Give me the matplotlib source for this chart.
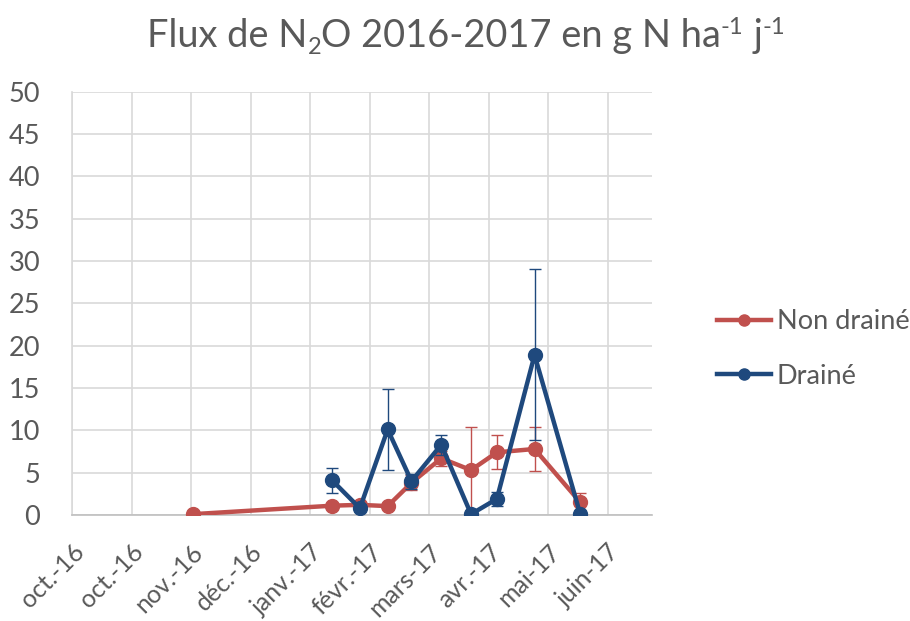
import matplotlib
matplotlib.use("Agg")
import matplotlib.pyplot as plt
import matplotlib.transforms as mtransforms
from matplotlib.lines import Line2D
from datetime import date, timedelta

# data
non_draine_dates = ["2016-12-01", "2017-02-09", "2017-02-23", "2017-03-09", "2017-03-21",
                    "2017-04-05", "2017-04-20", "2017-05-03", "2017-05-22", "2017-06-14"]
non_draine_vals = [0.1, 1.1, 1.2, 1.05, 3.8, 6.7, 5.3, 7.4, 7.8, 1.5]
non_draine_err = [0.1, 0.2, 0.3, 0.2, 0.9, 0.9, 5.1, 2.0, 2.55, 1.05]

draine_dates = ["2017-02-09", "2017-02-23", "2017-03-09", "2017-03-21", "2017-04-05",
                "2017-04-20", "2017-05-03", "2017-05-22", "2017-06-14"]
draine_vals = [4.1, 0.8, 10.1, 4.0, 8.3, 0.1, 1.9, 18.9, 0.1]
draine_err = [1.5, 0.2, 4.8, 0.9, 1.2, 0.0, 0.8, 10.1, 0.0]

tick_labels = ["oct.-16", "oct.-16", "nov.-16", "déc.-16", "janv.-17",
               "févr.-17", "mars-17", "avr.-17", "mai-17", "juin-17"]
axis_start = date(2016, 10, 1)
tick_step_days = 30
axis_span_days = 292

# title pieces: (text, kind)
title_parts = [("Flux de N", "n"), ("2", "sub"), ("O 2016-2017 en g N ha", "n"),
               ("-1", "sup"), (" j", "n"), ("-1", "sup")]

red = "#C0504D"
blue = "#1F497D"
grey_text = "#595959"
grid_col = "#D9D9D9"
font = "Lato"

plt.rcParams["font.family"] = [font, "DejaVu Sans"]

W, H = 910, 621
fig = plt.figure(figsize=(W / 100, H / 100), dpi=100)
ax = fig.add_axes([72 / W, 1 - 515 / H, (651.7 - 72) / W, (515 - 91.7) / H])

def to_dates(lst):
    return [date.fromisoformat(d) for d in lst]

ax.errorbar(to_dates(non_draine_dates), non_draine_vals, yerr=non_draine_err,
            color=red, lw=3.2, marker="o", ms=10, ecolor=red, elinewidth=1,
            capsize=4.3, capthick=1, zorder=3)
ax.errorbar(to_dates(draine_dates), draine_vals, yerr=draine_err,
            color=blue, lw=3.2, marker="o", ms=10, ecolor=blue, elinewidth=1,
            capsize=4.3, capthick=1, zorder=4)

ticks = [axis_start + timedelta(days=tick_step_days * i) for i in range(len(tick_labels))]
ax.set_xticks(ticks)
ax.set_xticklabels(tick_labels, rotation=45, ha="right", rotation_mode="anchor",
                   fontsize=18, color=grey_text)
shift = mtransforms.ScaledTranslation(-5 / 100, 0, fig.dpi_scale_trans)
for lab in ax.get_xticklabels():
    lab.set_transform(lab.get_transform() + shift)
ax.set_xlim(axis_start, axis_start + timedelta(days=axis_span_days))

ax.set_ylim(0, 50)
ax.set_yticks(range(0, 51, 5))
ax.tick_params(axis="y", labelsize=19.5, labelcolor=grey_text, length=0, pad=23)
ax.tick_params(axis="x", length=0, pad=18)

ax.grid(True, color=grid_col, lw=1.2)
ax.set_axisbelow(True)
for s in ["top", "right"]:
    ax.spines[s].set_visible(False)
for s in ["left", "bottom"]:
    ax.spines[s].set_color(grid_col)
    ax.spines[s].set_linewidth(1.2)
ax.spines["bottom"].set_color("#BFBFBF")

# title built from pieces so sub/superscripts keep plain hyphens
renderer = fig.canvas.get_renderer()
main_size = 27.4
base_y = 1 - 47 / H
sizes = {"n": main_size, "sub": main_size * 0.62, "sup": main_size * 0.62}
offsets = {"n": 0, "sub": -7, "sup": 13}
texts = []
for txt, kind in title_parts:
    t = fig.text(0, base_y + offsets[kind] / H, txt, fontsize=sizes[kind],
                 color=grey_text, va="baseline", ha="left")
    texts.append(t)
widths = [t.get_window_extent(renderer).width for t in texts]
start = 466 - sum(widths) / 2
for t, w in zip(texts, widths):
    t.set_x(start / W)
    start += w

handles = [Line2D([], [], color=red, lw=3.2, marker="o", ms=8),
           Line2D([], [], color=blue, lw=3.2, marker="o", ms=8)]
fig.legend(handles, ["Non drainé", "Drainé"], loc="upper left",
           bbox_to_anchor=(717 / W, 1 - 309 / H), borderaxespad=0, borderpad=0,
           frameon=False, fontsize=19.5, handlelength=2.0, handletextpad=0.2,
           labelspacing=1.1, labelcolor=grey_text)

fig.savefig("out.png", dpi=100)
